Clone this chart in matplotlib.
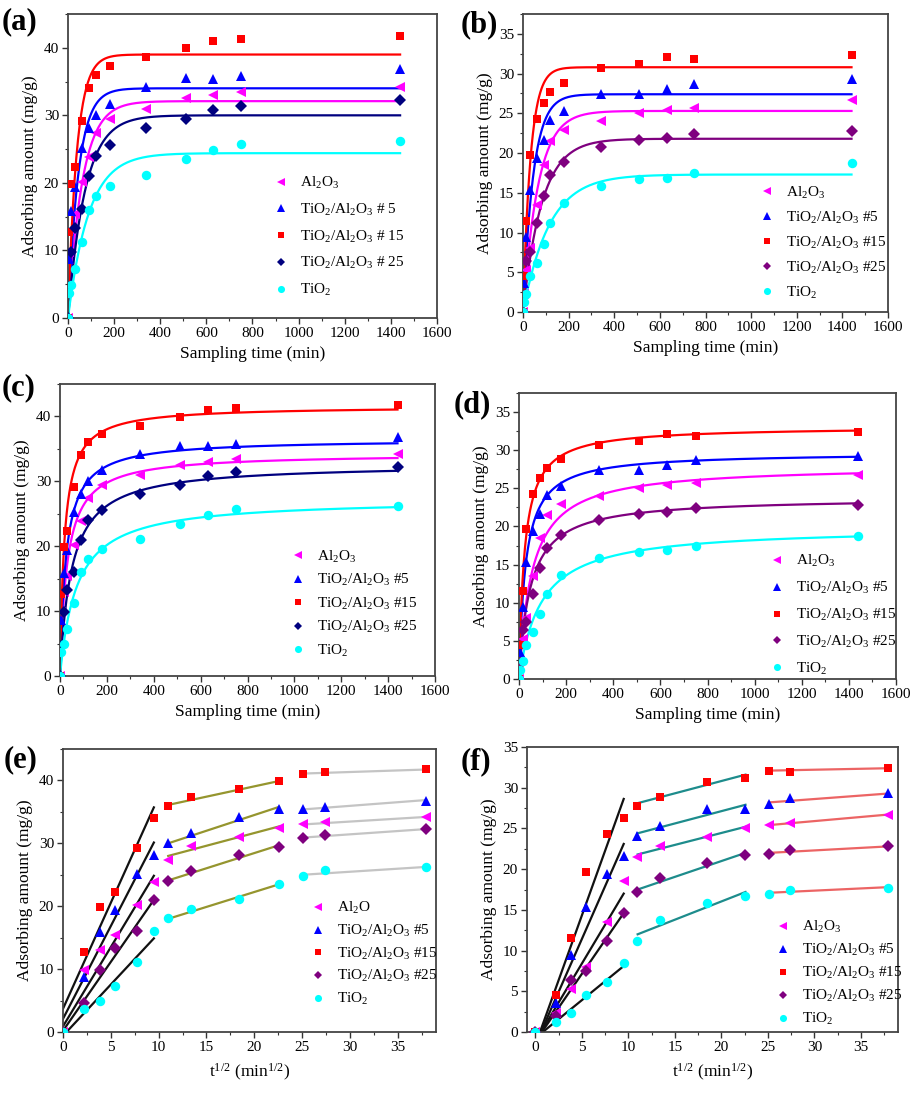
import numpy as np
import matplotlib
matplotlib.use('Agg')
import matplotlib.pyplot as plt
from matplotlib.ticker import MultipleLocator

plt.rcParams['font.family'] = ['Liberation Serif', 'DejaVu Serif']
plt.rcParams['mathtext.fontset'] = 'custom'
plt.rcParams['mathtext.rm'] = 'Liberation Serif'
plt.rcParams['mathtext.it'] = 'Liberation Serif:italic'
plt.rcParams['mathtext.bf'] = 'Liberation Serif:bold'

# ---------------- data ----------------
time_min = [0, 5, 15, 30, 60, 90, 120, 180, 340, 510, 630, 750, 1440]

# dataset 1 (panels a, c, e)
al2o3_A = [0, 9.8, 13.0, 15.4, 20.2, 23.9, 27.4, 29.5, 31.0, 32.5, 33.0, 33.4, 34.2]
ta5_A = [0, 8.7, 15.9, 19.4, 25.2, 28.1, 30.1, 31.7, 34.2, 35.5, 35.4, 35.8, 36.8]
ta15_A = [0, 12.7, 19.9, 22.3, 29.2, 34.0, 36.0, 37.3, 38.6, 39.9, 41.0, 41.3, 41.8]
ta25_A = [0, 4.6, 9.8, 13.3, 16.1, 21.0, 24.0, 25.6, 28.1, 29.4, 30.8, 31.4, 32.2]
tio2_A = [0, 3.7, 4.9, 7.3, 11.2, 16.0, 18.1, 19.6, 21.1, 23.5, 24.8, 25.7, 26.2]

# dataset 2 (panels b, d, f)
al2o3_B = [0, 2.3, 5.3, 8.0, 13.5, 18.5, 21.5, 22.9, 24.0, 25.0, 25.4, 25.7, 26.7]
ta5_B = [0, 3.6, 9.5, 15.4, 19.4, 21.6, 24.1, 25.3, 27.4, 27.4, 28.0, 28.7, 29.3]
ta15_B = [0, 4.5, 11.5, 19.7, 24.3, 26.3, 27.7, 28.8, 30.7, 31.2, 32.1, 31.9, 32.4]
ta25_B = [0, 2.0, 6.4, 7.5, 11.2, 14.6, 17.2, 18.9, 20.8, 21.7, 21.9, 22.4, 22.8]
tio2_B = [0, 1.2, 2.3, 4.5, 6.2, 8.5, 11.2, 13.7, 15.8, 16.7, 16.9, 17.5, 18.7]
tio2_B_f = [0, 1.2, 2.3, 4.5, 6.2, 8.5, 11.2, 13.7, 15.8, 16.7, 16.9, 17.5, 17.7]

# pseudo-first-order fits (order: Al2O3, #5, #15, #25, TiO2)
pfo_qe_A = [32.1, 34.0, 39.0, 30.0, 24.4]
pfo_k1_A = [0.016, 0.022, 0.026, 0.0134, 0.0112]
pfo_qe_B = [25.3, 27.4, 30.8, 21.8, 17.3]
pfo_k1_B = [0.015, 0.022, 0.030, 0.012, 0.0087]

# pseudo-second-order fits
pso_qe_A = [34.3, 36.5, 41.6, 32.7, 27.3]
pso_k2_A = [0.00096, 0.00107, 0.00128, 0.00062, 0.00052]
pso_qe_B = [28.0, 29.7, 33.1, 23.8, 19.9]
pso_k2_B = [0.00065, 0.00121, 0.00129, 0.00088, 0.00054]

# intraparticle diffusion fits: stage ranges in t^1/2 and (slope, intercept)
stage_ranges = [(0.0, 9.5), (11.0, 22.6), (25.1, 38.0)]
ipd_slope_E = [[2.52, 2.95, 3.37, 2.19, 1.63],
               [0.405, 0.50, 0.328, 0.483, 0.474],
               [0.093, 0.116, 0.050, 0.105, 0.097]]
ipd_icpt_E = [[0.9, 2.1, 3.7, 0.2, -0.6],
              [23.54, 24.5, 32.5, 18.79, 12.78],
              [30.67, 32.48, 39.84, 28.28, 22.57]]
ipd_slope_F = [[1.91, 2.595, 3.18, 1.659, 0.931],
               [0.293, 0.302, 0.302, 0.388, 0.448],
               [0.101, 0.085, 0.023, 0.062, 0.054]]
ipd_icpt_F = [[-1.15, -1.56, -1.59, -1.16, -0.745],
              [18.58, 21.08, 24.78, 13.23, 7.07],
              [22.87, 26.06, 31.52, 20.44, 15.74]]

labels_sp = ['Al$_2$O$_3$', 'TiO$_2$/Al$_2$O$_3$ # 5', 'TiO$_2$/Al$_2$O$_3$ # 15',
             'TiO$_2$/Al$_2$O$_3$ # 25', 'TiO$_2$']
labels_ns = ['Al$_2$O$_3$', 'TiO$_2$/Al$_2$O$_3$ #5', 'TiO$_2$/Al$_2$O$_3$ #15',
             'TiO$_2$/Al$_2$O$_3$ #25', 'TiO$_2$']
labels_e = ['Al$_2$O', 'TiO$_2$/Al$_2$O$_3$ #5', 'TiO$_2$/Al$_2$O$_3$ #15',
            'TiO$_2$/Al$_2$O$_3$ #25', 'TiO$_2$']

# ---------------- styles ----------------
markers = ['<', '^', 's', 'D', 'o']
msizes = [7, 7, 6.3, 5.8, 6.8]
cols_navy = ['#ff00ff', '#0000ff', '#ff0000', '#00007f', '#00ffff']
cols_purp = ['#ff00ff', '#0000ff', '#ff0000', '#7f007f', '#00ffff']

W, H = 915, 1101
fig = plt.figure(figsize=(W / 100, H / 100), dpi=100)


def add_ax(l, r, t, b):
    return fig.add_axes([l / W, 1 - b / H, (r - l) / W, (b - t) / H])


def style(ax, xlim, ylim, xmaj, xmin, ymaj, ymin):
    ax.set_xlim(*xlim)
    ax.set_ylim(*ylim)
    ax.xaxis.set_major_locator(MultipleLocator(xmaj))
    ax.xaxis.set_minor_locator(MultipleLocator(xmin))
    ax.yaxis.set_major_locator(MultipleLocator(ymaj))
    ax.yaxis.set_minor_locator(MultipleLocator(ymin))
    ax.tick_params(which='major', direction='out', length=4.5, width=1.0,
                   color='#333333', labelsize=11, pad=2)
    ax.tick_params(which='minor', direction='out', length=2.5, width=0.8,
                   color='#333333')
    for s in ax.spines.values():
        s.set_linewidth(1.3)
        s.set_color('#444444')
    ax.set_ylabel('Adsorbing amount (mg/g)', fontsize=12.5, labelpad=4)


def legend(ax, labels, x, y, spacing):
    ax.legend(labels=labels, handles=ax.lines[:5], loc='center left',
              bbox_to_anchor=(x, y), frameon=False, fontsize=11,
              handlelength=1.0, handletextpad=0.75, borderpad=0,
              borderaxespad=0, labelspacing=spacing, markerscale=0.75)


data_A = [al2o3_A, ta5_A, ta15_A, ta25_A, tio2_A]
data_B = [al2o3_B, ta5_B, ta15_B, ta25_B, tio2_B]
data_Bf = [al2o3_B, ta5_B, ta15_B, ta25_B, tio2_B_f]
t = np.array(time_min, dtype=float)
tt = np.linspace(0, 1440, 800)


def kinetics_panel(ax, data, cols, model, qe, k):
    for i in range(5):
        ax.plot(t, data[i], linestyle='none', marker=markers[i],
                markersize=msizes[i], color=cols[i], markeredgewidth=0, zorder=3)
    for i in range(5):
        if model == 'pfo':
            q = qe[i] * (1 - np.exp(-k[i] * tt))
        else:
            q = qe[i] ** 2 * k[i] * tt / (1 + qe[i] * k[i] * tt)
        ax.plot(tt, q, color=cols[i], lw=1.6, zorder=2)
    ax.set_xlabel('Sampling time (min)', fontsize=12.5, labelpad=4)


def ipd_panel(ax, data, cols, slopes, icpts, stage_cols):
    x = np.sqrt(t)
    for i in range(5):
        ax.plot(x, data[i], linestyle='none', marker=markers[i],
                markersize=msizes[i], color=cols[i], markeredgewidth=0, zorder=3)
    for s, (x0, x1) in enumerate(stage_ranges):
        for i in range(5):
            b, a = slopes[s][i], icpts[s][i]
            xs = max(x0, -a / b) if s == 0 else x0
            xx = np.linspace(xs, x1, 50)
            ax.plot(xx, a + b * xx, color=stage_cols[s], lw=1.6, zorder=2)
    ax.set_xlabel('t$^{1/2}$ (min$^{1/2}$)', fontsize=12.5, labelpad=6)


# (a)
axa = add_ax(68, 437, 14, 318)
kinetics_panel(axa, data_A, cols_navy, 'pfo', pfo_qe_A, pfo_k1_A)
style(axa, (0, 1600), (0, 45), 200, 100, 10, 5)
legend(axa, labels_sp, 0.557, 0.268, 0.70)

# (b)
axb = add_ax(523, 888, 14, 312)
kinetics_panel(axb, data_B, cols_purp, 'pfo', pfo_qe_B, pfo_k1_B)
style(axb, (0, 1600), (0, 37.5), 200, 100, 5, 2.5)
legend(axb, labels_ns, 0.647, 0.233, 0.58)

# (c)
axc = add_ax(60, 435, 384, 676)
kinetics_panel(axc, data_A, cols_navy, 'pso', pso_qe_A, pso_k2_A)
style(axc, (0, 1600), (0, 45), 200, 100, 10, 5)
legend(axc, labels_ns, 0.615, 0.248, 0.48)

# (d)
axd = add_ax(519, 896, 393, 679)
kinetics_panel(axd, data_B, cols_purp, 'pso', pso_qe_B, pso_k2_B)
style(axd, (0, 1600), (0, 37.5), 200, 100, 5, 2.5)
legend(axd, labels_ns, 0.664, 0.224, 0.70)

# (e)
axe = add_ax(63, 436, 749, 1032)
ipd_panel(axe, data_A, cols_purp, ipd_slope_E, ipd_icpt_E,
          ['#111111', '#95952e', '#c4c4c4'])
style(axe, (0, 39), (0, 45), 5, 2.5, 10, 5)
legend(axe, labels_e, 0.663, 0.277, 0.43)

# (f)
axf = add_ax(527, 898, 747, 1032)
ipd_panel(axf, data_Bf, cols_purp, ipd_slope_F, ipd_icpt_F,
          ['#111111', '#1d8c8c', '#ec6464'])
style(axf, (-0.9, 39), (0, 35), 5, 2.5, 5, 2.5)
legend(axf, labels_ns, 0.670, 0.207, 0.45)

# panel letters
for lab, px, py in [('(a)', 2, 22), ('(b)', 461, 25), ('(c)', 2, 388),
                    ('(d)', 454, 405), ('(e)', 4, 760), ('(f)', 461, 762)]:
    fig.text(px / W, 1 - py / H, lab, fontsize=22, fontweight='bold',
             ha='left', va='center')

fig.savefig('out.png', dpi=100)
